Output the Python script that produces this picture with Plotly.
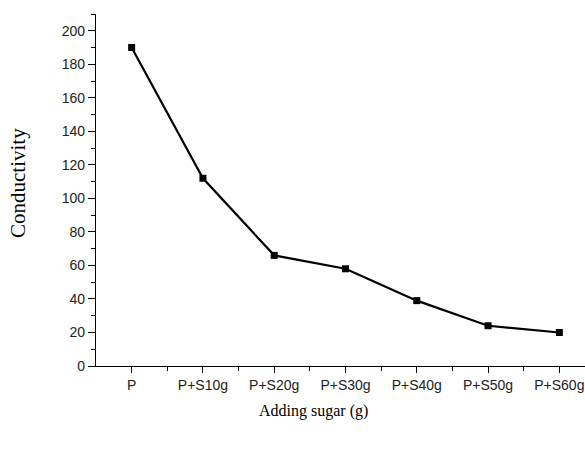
import plotly.graph_objects as go

categories = ["P", "P+S10g", "P+S20g", "P+S30g", "P+S40g", "P+S50g", "P+S60g"]
conductivity = [190, 112, 66, 58, 39, 24, 20]
y_ticks = [0, 20, 40, 60, 80, 100, 120, 140, 160, 180, 200]

xpos = list(range(len(categories)))

fig = go.Figure()
fig.add_trace(go.Scatter(
    x=xpos, y=conductivity, mode="lines+markers",
    line=dict(color="black", width=2.2),
    marker=dict(symbol="square", size=7, color="black"),
    showlegend=False, cliponaxis=False,
))

W, H = 585, 449
L, T, B = 96, 14, 83
fig.update_layout(
    width=W, height=H,
    margin=dict(l=L, r=0, t=T, b=B),
    paper_bgcolor="white", plot_bgcolor="white",
    font=dict(family="Liberation Sans, Arial", size=14, color="#222"),
)
fig.update_xaxes(
    range=[-0.5, 6.36], tickmode="array", tickvals=xpos, ticktext=categories,
    showgrid=False, zeroline=False, showline=True, linecolor="black", linewidth=1.3,
    ticks="outside", ticklen=6, tickwidth=1.3, tickcolor="black",
    tickfont=dict(size=14),
    minor=dict(tickmode="array", tickvals=[i + 0.5 for i in xpos], ticks="outside", ticklen=4,
               tickwidth=1.2, tickcolor="black"),
)
fig.update_yaxes(
    range=[0, 210], tickmode="array", tickvals=y_ticks,
    showgrid=False, zeroline=False, showline=True, linecolor="black", linewidth=1.3,
    ticks="outside", ticklen=7, tickwidth=1.3, tickcolor="black",
    tickfont=dict(size=14),
    minor=dict(dtick=10, ticks="outside", ticklen=4, tickwidth=1.2, tickcolor="black"),
)
fig.add_annotation(
    text="Conductivity", xref="paper", yref="paper",
    x=(18 - L) / (W - L), y=(366 - 183) / (H - T - B),
    textangle=-90, showarrow=False, xanchor="center", yanchor="middle",
    font=dict(family="Liberation Serif, Times New Roman", size=21, color="black"),
)
fig.add_annotation(
    text="Adding sugar (g)", xref="paper", yref="paper",
    x=(313 - L) / (W - L), y=-(411 - 366) / (H - T - B),
    showarrow=False, xanchor="center", yanchor="middle",
    font=dict(family="Liberation Serif, Times New Roman", size=16, color="black"),
)
fig.write_html("out.html")
